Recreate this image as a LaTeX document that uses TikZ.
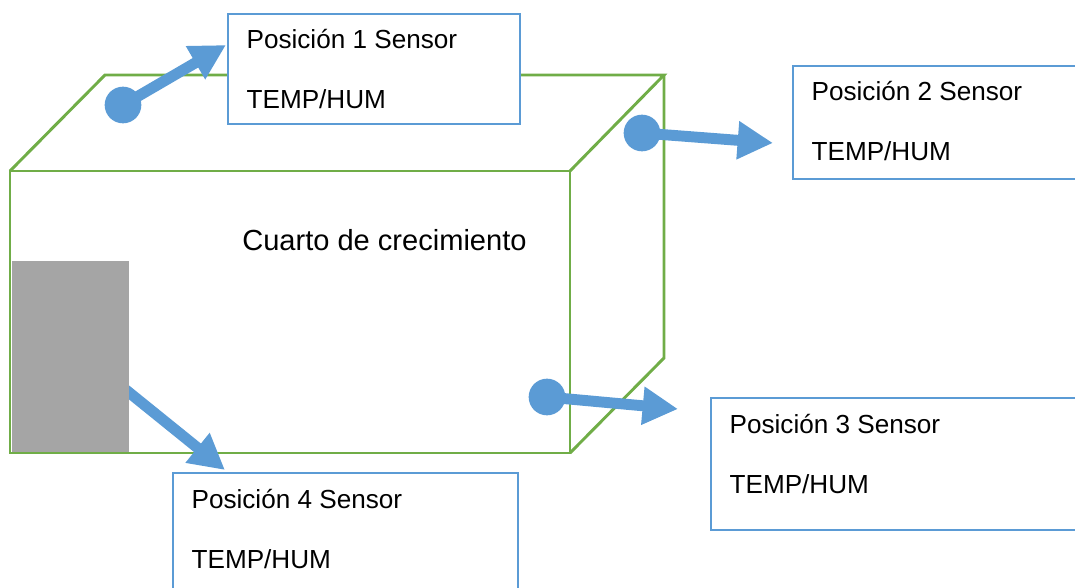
\documentclass[tikz,border=0pt]{standalone}
\usepackage{fontspec}
\setmainfont{Liberation Sans}
\usetikzlibrary{arrows.meta}
\definecolor{cblue}{HTML}{5B9BD5}
\definecolor{cgreen}{HTML}{70AD47}
\definecolor{cgray}{HTML}{A5A5A5}
\tikzset{
  cubeline/.style={draw=cgreen, line width=2.2pt, line join=miter},
  sbox/.style={draw=cblue, line width=1.6pt, rectangle, inner sep=0pt, anchor=north west, fill=white},
  lbl/.style={inner sep=0pt, anchor=base west, font=\fontsize{19.6pt}{23pt}\selectfont},
  title/.style={inner sep=0pt, anchor=base west, font=\fontsize{21.8pt}{25pt}\selectfont},
  dot/.style={circle, fill=cblue, inner sep=0pt, minimum size=27.5pt},
  conn/.style={draw=cblue, line width=8.2pt, -{Triangle[width=27pt,length=26.5pt]}}
}
\begin{document}
\begin{tikzpicture}[x=0.75pt,y=-0.75pt]
\useasboundingbox (0,0) rectangle (1075,588);
\clip (0,0) rectangle (1075,588);
% cube
\draw[cubeline] (10,171) rectangle (570,453);
\draw[cubeline] (10,171) -- (105,75) -- (664,75) -- (570,171);
\draw[cubeline] (664,75) -- (664,358) -- (570,453);
\node[title] (room) at (242,250) {Cuarto de crecimiento};
% sensor boxes
\node[sbox, minimum width=219pt, minimum height=82.5pt] (b1) at (227,13) {};
\node[sbox, minimum width=216pt, minimum height=84.75pt] (b2) at (792,65) {};
\node[sbox, minimum width=277.5pt, minimum height=99pt] (b3) at (710,397) {};
\node[sbox, minimum width=258.75pt, minimum height=96pt] (b4) at (172,472) {};
\foreach \b/\n in {b1/1,b2/2,b3/3,b4/4}{
  \node[lbl] (\b a) at ([xshift=14.5pt,yshift=-27pt]\b.north west) {Posición \n{} Sensor};
  \node[lbl] (\b b) at ([xshift=14.5pt,yshift=-72pt]\b.north west) {TEMP/HUM};
}
% arrow 4 (starts behind the grey block)
\coordinate (s4) at (100,369);
\coordinate (tip4) at (225,470);
\draw[conn] (s4) -- (tip4);
\fill[cgray] (11.6,261) rectangle (129,451.9);
% dots and arrows
\node[dot] (d1) at (123,105) {};
\node[dot] (d2) at (642,133) {};
\node[dot] (d3) at (547,397) {};
\coordinate (tip1) at (226,45);
\coordinate (tip2) at (773,143);
\coordinate (tip3) at (678,409);
\draw[conn] (d1.center) -- (tip1);
\draw[conn] (d2.center) -- (tip2);
\draw[conn] (d3.center) -- (tip3);
\end{tikzpicture}
\end{document}
